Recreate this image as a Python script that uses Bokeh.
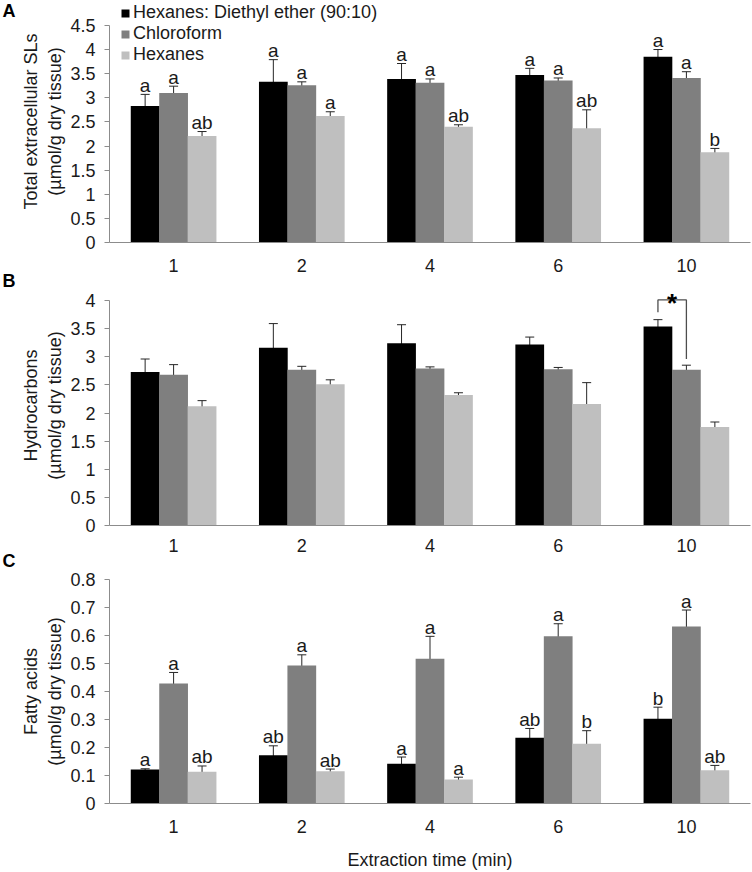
from bokeh.plotting import figure
from bokeh.models import (ColumnDataSource, Whisker, TeeHead, FixedTicker, Range1d,
                          Legend, LegendItem)
from bokeh.layouts import column, row
from bokeh.core.properties import value
from bokeh.embed import file_html
from bokeh.resources import INLINE

# ---------------- data ----------------
categories = ["1", "2", "4", "6", "10"]
series_names = ["Hexanes: Diethyl ether (90:10)", "Chloroform", "Hexanes"]
colors = ["#000000", "#7f7f7f", "#bfbfbf"]

# Panel A: Total extracellular SLs
hde_A = [2.83, 3.33, 3.39, 3.47, 3.85]
hde_A_err = [0.24, 0.46, 0.32, 0.14, 0.15]
chl_A = [3.10, 3.26, 3.31, 3.36, 3.41]
chl_A_err = [0.14, 0.07, 0.08, 0.05, 0.13]
hex_A = [2.21, 2.62, 2.40, 2.37, 1.87]
hex_A_err = [0.09, 0.09, 0.04, 0.38, 0.08]
hde_A_lab = ["a", "a", "a", "a", "a"]
chl_A_lab = ["a", "a", "a", "a", "a"]
hex_A_lab = ["ab", "a", "ab", "ab", "b"]

# Panel B: Hydrocarbons
hde_B = [2.73, 3.16, 3.24, 3.22, 3.54]
hde_B_err = [0.23, 0.43, 0.33, 0.13, 0.12]
chl_B = [2.68, 2.77, 2.79, 2.78, 2.77]
chl_B_err = [0.18, 0.06, 0.03, 0.03, 0.08]
hex_B = [2.12, 2.51, 2.32, 2.16, 1.75]
hex_B_err = [0.10, 0.08, 0.04, 0.38, 0.09]
# significance bracket (time 10 min: HDE vs chloroform)
sig_index = 4
sig_top = 4.01
sig_leg_bottoms = [3.79, 2.96]
sig_text = "*"

# Panel C: Fatty acids
hde_C = [0.121, 0.172, 0.142, 0.235, 0.303]
hde_C_err = [0.003, 0.034, 0.024, 0.033, 0.041]
chl_C = [0.429, 0.493, 0.517, 0.597, 0.632]
chl_C_err = [0.039, 0.038, 0.080, 0.045, 0.059]
hex_C = [0.113, 0.115, 0.086, 0.213, 0.119]
hex_C_err = [0.021, 0.008, 0.008, 0.047, 0.017]
hde_C_lab = ["a", "ab", "a", "ab", "b"]
chl_C_lab = ["a", "a", "a", "a", "a"]
hex_C_lab = ["ab", "ab", "a", "b", "ab"]

yticks_A = [0, 0.5, 1, 1.5, 2, 2.5, 3, 3.5, 4, 4.5]
ylabels_A = ["0", "0.5", "1", "1.5", "2", "2.5", "3", "3.5", "4", "4.5"]
yticks_B = [0, 0.5, 1, 1.5, 2, 2.5, 3, 3.5, 4]
ylabels_B = ["0", "0.5", "1", "1.5", "2", "2.5", "3", "3.5", "4"]
yticks_C = [0, 0.1, 0.2, 0.3, 0.4, 0.5, 0.6, 0.7, 0.8]
ylabels_C = ["0", "0.1", "0.2", "0.3", "0.4", "0.5", "0.6", "0.7", "0.8"]

panel_tags = ["A", "B", "C"]

FONT = "Liberation Sans"
BAR_W = 0.222
OFFSETS = [-BAR_W, 0.0, BAR_W]
AXIS_COLOR = "#8c8c8c"
INK = "#1a1a1a"
TOTAL_H = 872
TAG_W = 18
FIG_W = 752 - TAG_W
BORDER_L = 106 - TAG_W
BORDER_R = 2


def make_panel(means, errs, labels, y_end, ybounds, yticks, ylabels, ytitle,
               height, btop, bbottom, xstandoff, xtitle=None):
    xs = list(range(len(categories)))
    p = figure(width=FIG_W, height=height, output_backend="svg", toolbar_location=None,
               x_range=Range1d(-0.5, len(categories) - 0.5), y_range=Range1d(0, y_end),
               min_border_left=BORDER_L, min_border_right=BORDER_R, min_border_top=btop,
               min_border_bottom=bbottom)
    p.outline_line_color = None
    p.grid.visible = False
    p.background_fill_color = "white"
    p.border_fill_color = "white"

    renderers = []
    for i in range(3):
        data = dict(
            x=[xi + OFFSETS[i] for xi in xs],
            top=means[i],
            upper=[m + e for m, e in zip(means[i], errs[i])],
            lower=[m - e for m, e in zip(means[i], errs[i])],
        )
        if labels is not None:
            data["lab"] = labels[i]
        src = ColumnDataSource(data)
        r = p.vbar(x="x", top="top", bottom=0, width=BAR_W * 1.01, source=src,
                   fill_color=colors[i], line_color=None)
        renderers.append(r)
        w = Whisker(source=src, base="x", upper="upper", lower="lower",
                    line_color="#262626", line_width=1,
                    upper_head=TeeHead(size=9, line_color="#262626", line_width=1),
                    lower_head=TeeHead(size=9, line_color="#262626", line_width=1))
        p.add_layout(w)
        if labels is not None:
            p.text(x="x", y="upper", text="lab", source=src, text_align="center",
                   text_baseline="alphabetic", y_offset=-9,
                   text_font=value(FONT), text_font_size="19px", text_color=INK)

    # axes
    p.xaxis.ticker = FixedTicker(ticks=xs)
    p.xaxis.major_label_overrides = {x: c for x, c in zip(xs, categories)}
    p.xaxis.major_tick_line_color = None
    p.xaxis.minor_tick_line_color = None
    p.xaxis.axis_line_color = AXIS_COLOR
    p.xaxis.major_label_standoff = xstandoff
    p.xaxis.major_label_text_font = FONT
    p.xaxis.major_label_text_font_size = "18px"
    p.xaxis.major_label_text_color = INK

    p.yaxis.ticker = FixedTicker(ticks=yticks)
    p.yaxis.major_label_overrides = {t: l for t, l in zip(yticks, ylabels)}
    p.yaxis.bounds = ybounds
    p.yaxis.axis_line_color = AXIS_COLOR
    p.yaxis.major_tick_line_color = AXIS_COLOR
    p.yaxis.major_tick_out = 5
    p.yaxis.major_tick_in = 0
    p.yaxis.minor_tick_line_color = None
    p.yaxis.major_label_standoff = 9
    p.yaxis.major_label_text_font = FONT
    p.yaxis.major_label_text_font_size = "18px"
    p.yaxis.major_label_text_color = INK
    p.yaxis.axis_label = ytitle
    p.yaxis.axis_label_text_font = FONT
    p.yaxis.axis_label_text_font_size = "18px"
    p.yaxis.axis_label_text_font_style = "normal"
    p.yaxis.axis_label_text_color = INK
    p.yaxis.axis_label_standoff = 2

    if xtitle:
        p.xaxis.axis_label = xtitle
        p.xaxis.axis_label_text_font = FONT
        p.xaxis.axis_label_text_font_size = "18px"
        p.xaxis.axis_label_text_font_style = "normal"
        p.xaxis.axis_label_text_color = INK
        p.xaxis.axis_label_standoff = 14
    return p, renderers


# Panel A: frame extended upward so the legend (which sits above 4.5) is inside it
yA_end = 5.016
pA, rA = make_panel([hde_A, chl_A, hex_A], [hde_A_err, chl_A_err, hex_A_err],
                    [hde_A_lab, chl_A_lab, hex_A_lab], yA_end, (0, 4.5), yticks_A, ylabels_A,
                    "Total extracellular SLs\n(\u00b5mol/g dry tissue)",
                    274, 0, 31, 10)
legend = Legend(items=[LegendItem(label=n, renderers=[r]) for n, r in zip(series_names, rA)],
                location=(11, 177), glyph_width=10, glyph_height=10, label_height=17,
                label_standoff=3, padding=0, spacing=-2, margin=0,
                border_line_color=None, background_fill_alpha=0,
                label_text_font=FONT, label_text_font_size="18px", label_text_color=INK)
pA.add_layout(legend)

yB_end = 4.267
pB, rB = make_panel([hde_B, chl_B, hex_B], [hde_B_err, chl_B_err, hex_B_err],
                    None, yB_end, (0, 4), yticks_B, ylabels_B,
                    "Hydrocarbons\n(\u00b5mol/g dry tissue)",
                    280, 11, 29, 7)
x_hde = sig_index + OFFSETS[0]
x_chl = sig_index + OFFSETS[1]
pB.line(x=[x_hde, x_hde, x_chl, x_chl],
        y=[sig_leg_bottoms[0], sig_top, sig_top, sig_leg_bottoms[1]],
        line_color="#4d4d4d", line_width=1.3)
pB.text(x=[(x_hde + x_chl) / 2], y=[sig_top], text=[sig_text], text_align="center",
        text_baseline="alphabetic", y_offset=3, text_font=value(FONT),
        text_font_size="26px", text_font_style="bold", text_color="#000000")

pC, rC = make_panel([hde_C, chl_C, hex_C], [hde_C_err, chl_C_err, hex_C_err],
                    [hde_C_lab, chl_C_lab, hex_C_lab], 0.8, (0, 0.8), yticks_C, ylabels_C,
                    "Fatty acids\n(\u00b5mol/g dry tissue)",
                    318, 25, 66, 10, xtitle="Extraction time (min)")

# narrow strip on the left carrying the panel letters (y in page pixels, top-down)
tags = figure(width=TAG_W, height=TOTAL_H, output_backend="svg", toolbar_location=None,
              x_range=Range1d(0, TAG_W), y_range=Range1d(TOTAL_H, 0),
              x_axis_location=None, y_axis_location=None,
              min_border=0)
tags.outline_line_color = None
tags.grid.visible = False
tag_src = ColumnDataSource(dict(x=[2, 2, 2], y=[10, 280, 560], t=panel_tags))
tags.text(x="x", y="y", text="t", source=tag_src, text_align="left", text_baseline="middle",
          text_font=value(FONT), text_font_size="18px", text_font_style="bold",
          text_color="#000000")

layout = row(tags, column(pA, pB, pC, spacing=0), spacing=0)
open("out.html", "w").write(file_html(layout, INLINE))
